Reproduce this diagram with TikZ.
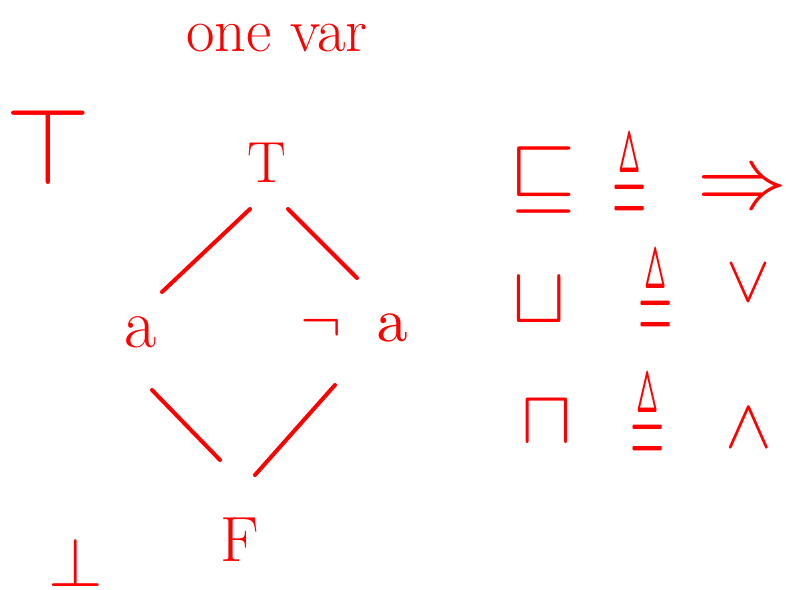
\documentclass[tikz,border=0pt]{standalone}
\usepackage{amssymb}
\usepackage{graphicx}
\definecolor{inkred}{RGB}{255,0,0}
\tikzset{
  ink/.style={text=inkred, inner sep=0pt, anchor=center},
  stroke/.style={draw=inkred, line width=4pt, line cap=round}
}
\newcommand{\inksym}[2]{\scalebox{#1}{\fontsize{10}{12}\selectfont$#2$}}
\newcommand{\deq}{\scalebox{4.4}[11]{\fontsize{10}{12}\selectfont$\triangleq$}}
\begin{document}
\begin{tikzpicture}[x=1pt,y=1pt]
\useasboundingbox (0,0) rectangle (786,-589);
% title
\node[ink, font=\fontsize{62}{70}\selectfont] (title) at (277,-38) {one var};
% top / bottom symbols
\node[ink] (topsym) at (48,-146) {\inksym{11}{\top}};
\node[ink] (botsym) at (76,-562) {\inksym{7}{\bot}};
% lattice
\node[ink, font=\fontsize{58}{70}\selectfont] (T) at (267,-163) {T};
\node[ink, font=\fontsize{70}{80}\selectfont] (a) at (141,-332) {a};
\node[ink] (na) at (354,-328) {\inksym{6.2}{\neg\;\; \mathrm{a}}};
\node[ink, font=\fontsize{64}{76}\selectfont] (F) at (240,-540) {F};
\draw[stroke] ([shift={(-17,-46)}]T.center) -- ([shift={(21,40)}]a.center);
\draw[stroke] ([shift={(21,-46)}]T.center) -- ([shift={(3,50)}]na.center);
\draw[stroke] ([shift={(11,-58)}]a.center) -- ([shift={(-20,80)}]F.center);
\draw[stroke] ([shift={(-19,-57)}]na.center) -- ([shift={(15,65)}]F.center);
% definitions
\node[ink] (sqle) at (543,-180) {\inksym{8.6}{\sqsubseteq}};
\node[ink] (eq1) at (630,-180) {\deq};
\node[ink] (impl) at (742,-192) {\inksym{9}{\Rightarrow}};
\node[ink] (sqcup) at (539,-300) {\inksym{8}{\sqcup}};
\node[ink] (eq2) at (656,-296) {\deq};
\node[ink] (vee) at (748,-283) {\inksym{6.6}{\vee}};
\node[ink] (sqcap) at (547,-422) {\inksym{7.6}{\sqcap}};
\node[ink] (eq3) at (648,-420) {\deq};
\node[ink] (wedge) at (749,-428) {\inksym{7}{\wedge}};
\end{tikzpicture}
\end{document}
